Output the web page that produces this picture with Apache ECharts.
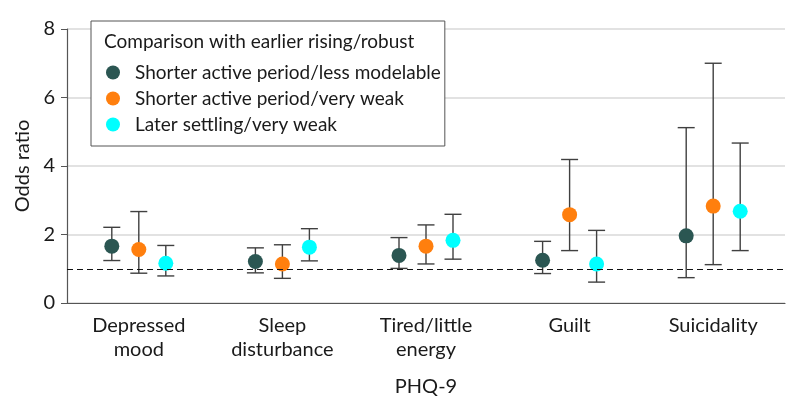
<!DOCTYPE html>
<html>
<head>
<meta charset="utf-8">
<script src="https://cdn.jsdelivr.net/npm/echarts@6/dist/echarts.min.js"></script>
<style>
	html, body { margin: 0; padding: 0; background: #fff; }
	#chart { width: 794px; height: 413px; }
</style>
</head>
<body>
<div id="chart"></div>
<script>
var categories = ['Depressed\nmood', 'Sleep\ndisturbance', 'Tired/little\nenergy', 'Guilt', 'Suicidality'];
var seriesNames = ['Shorter active period/less modelable', 'Shorter active period/very weak', 'Later settling/very weak'];

// odds ratio with 95% CI, one group per series
var lessModelOR   = [1.66, 1.21, 1.39, 1.25, 1.96];
var lessModelLow  = [1.24, 0.88, 1.01, 0.86, 0.74];
var lessModelHigh = [2.21, 1.61, 1.91, 1.80, 5.12];

var veryWeakOR    = [1.56, 1.14, 1.66, 2.58, 2.83];
var veryWeakLow   = [0.87, 0.72, 1.14, 1.53, 1.12];
var veryWeakHigh  = [2.67, 1.70, 2.28, 4.19, 7.00];

var laterOR       = [1.16, 1.63, 1.83, 1.14, 2.68];
var laterLow      = [0.79, 1.23, 1.28, 0.61, 1.53];
var laterHigh     = [1.68, 2.17, 2.59, 2.12, 4.67];

var yTicks = [0, 2, 4, 6, 8];
var refLine = 1;

var FONT = 'Lato';
var colors = ['#2b5652', '#ff7f0e', '#00ffff'];

function toData(or, low, high){
	var out = [];
	for (var i = 0; i < or.length; i++) {
		out.push([i, or[i], low[i], high[i]]);
	}
	return out;
}

/* 误差线 + 圆点 */
function makeRender(offset){
	return function(params, api){
		var x = api.value(0);
		var c = api.coord([x, api.value(1)]);
		var lo = api.coord([x, api.value(2)]);
		var hi = api.coord([x, api.value(3)]);
		var cx = c[0] + offset;
		var cap = 8.5;
		var barStyle = { stroke: '#404040', lineWidth: 1.4 };
		return {
			type: 'group',
			children: [
				{ type: 'line', shape: { x1: cx, y1: hi[1], x2: cx, y2: lo[1] }, style: barStyle },
				{ type: 'line', shape: { x1: cx - cap, y1: hi[1], x2: cx + cap, y2: hi[1] }, style: barStyle },
				{ type: 'line', shape: { x1: cx - cap, y1: lo[1], x2: cx + cap, y2: lo[1] }, style: barStyle },
				{ type: 'circle', shape: { cx: cx, cy: c[1], r: 7.5 }, style: { fill: api.visual('color') } }
			]
		};
	};
}

var chart = echarts.init(document.getElementById('chart'));
var offsets = [-27, 0, 27];
var groups = [
	toData(lessModelOR, lessModelLow, lessModelHigh),
	toData(veryWeakOR, veryWeakLow, veryWeakHigh),
	toData(laterOR, laterLow, laterHigh)
];

var series = [{
	type: 'line',
	data: [],
	silent: true,
	markLine: {
		silent: true,
		symbol: 'none',
		label: { show: false },
		lineStyle: { color: '#111', type: [6, 4], width: 1.2 },
		data: [{ yAxis: refLine }]
	}
}];
for (var s = 0; s < 3; s++) {
	series.push({
		type: 'custom',
		name: seriesNames[s],
		itemStyle: { color: colors[s] },
		renderItem: makeRender(offsets[s]),
		encode: { x: 0, y: 1 },
		data: groups[s],
		z: 3
	});
}

chart.setOption({
	animation: false,
	textStyle: { fontFamily: FONT },
	title: {
		text: 'Comparison with earlier rising/robust',
		left: 99,
		top: 27,
		textStyle: { fontFamily: FONT, fontSize: 19, fontWeight: 'normal', color: '#1a1a1a' }
	},
	legend: {
		data: seriesNames,
		orient: 'vertical',
		left: 91,
		top: 21,
		padding: [42, 4, 12, 15],
		itemGap: 7,
		itemWidth: 14,
		itemHeight: 14,
		icon: 'circle',
		borderColor: '#555',
		borderWidth: 1,
		backgroundColor: '#fff',
		textStyle: { fontFamily: FONT, fontSize: 19, color: '#1a1a1a', padding: [0, 0, 0, 10] }
	},
	grid: { left: 67, right: 9, top: 29, bottom: 110, containLabel: false },
	xAxis: {
		type: 'category',
		data: categories,
		name: 'PHQ-9',
		nameLocation: 'middle',
		nameGap: 74,
		nameTextStyle: { fontFamily: FONT, fontSize: 20, color: '#1a1a1a' },
		axisLine: { lineStyle: { color: '#555', width: 1.2 } },
		axisTick: { alignWithLabel: true, length: 6, lineStyle: { color: '#555' } },
		axisLabel: { fontFamily: FONT, fontSize: 20, color: '#1a1a1a', lineHeight: 24, margin: 11, interval: 0 },
		splitLine: { show: false }
	},
	yAxis: {
		type: 'value',
		min: yTicks[0],
		max: yTicks[yTicks.length - 1],
		interval: 2,
		name: 'Odds ratio',
		nameLocation: 'middle',
		nameGap: 31,
		nameTextStyle: { fontFamily: FONT, fontSize: 20, color: '#1a1a1a' },
		axisLine: { show: true, lineStyle: { color: '#555', width: 1.2 } },
		axisTick: { show: true, length: 6, lineStyle: { color: '#555' } },
		axisLabel: { fontFamily: FONT, fontSize: 20, color: '#1a1a1a', margin: 12 },
		splitLine: { lineStyle: { color: '#d9d9d9', width: 1.5 } }
	},
	series: series
});
</script>
</body>
</html>
